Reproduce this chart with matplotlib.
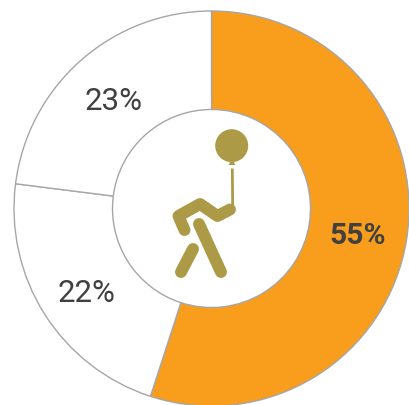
#!/usr/bin/env python3
import matplotlib
matplotlib.use("Agg")
import matplotlib.pyplot as plt
from matplotlib.patches import Circle, Polygon

labels = ["Yes", "No", "Unsure"]
shares = [55, 22, 23]
colors = ["#F99D1C", "#FFFFFF", "#FFFFFF"]

ICON = "#AD9A47"
EDGE = "#A6A6A6"
TEXT = "#404040"

fig = plt.figure(figsize=(4.09, 4.06), dpi=100)
ax = fig.add_axes([0, 0, 1, 1])

# pixel coords of the picture, y measured from the bottom
cx, cy = 211.5, 406 - 209.5
wedges, _, pcts = ax.pie(shares, colors=colors, startangle=90, counterclock=False,
                         center=(cx, cy), radius=197.5, autopct="%d%%", pctdistance=0.75,
                         wedgeprops=dict(width=98.5, edgecolor=EDGE, linewidth=1.0))
ax.set_xlim(0, 409)
ax.set_ylim(0, 406)
ax.set_aspect("equal")
ax.axis("off")

for t, dy in zip(pcts, [3, 5, 3]):
    t.set_family("Roboto")
    t.set_fontsize(22.5)
    t.set_color(TEXT)
    t.set_y(t.get_position()[1] - dy)
pcts[0].set_fontweight("bold")
pcts[0].set_fontsize(21.5)


def py(y):
    return 406 - y


# --- balloon man ---
ax.add_patch(Circle((231.7, py(146.7)), 16.5, facecolor=ICON, edgecolor="none", zorder=5))
ax.add_patch(Polygon([(232, py(160)), (228.5, py(166)), (235.5, py(166))], facecolor=ICON,
                     edgecolor="none", zorder=5))
ax.plot([232.3, 232.7], [py(169.5), py(208)], color=ICON, lw=2.0, solid_capstyle="butt", zorder=5)

limb = dict(color=ICON, lw=8.6, solid_capstyle="round", solid_joinstyle="round", zorder=5)
ax.plot([230, 217.5, 200, 178.5, 184.5], [py(210.5), py(217), py(205), py(217), py(231)], **limb)
ax.plot([199, 221], [py(225), py(273)], **limb)
ax.plot([193, 181], [py(250), py(273)], **limb)

fig.savefig("out.png", dpi=100)
